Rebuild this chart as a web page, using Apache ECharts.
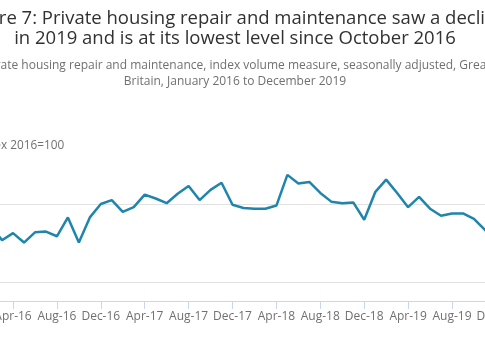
<!DOCTYPE html>
<html><head><meta charset="utf-8">
<script src="https://cdn.jsdelivr.net/npm/echarts@6/dist/echarts.min.js"></script>
<style>
html,body{margin:0;padding:0;width:485px;height:360px;overflow:hidden;background:#fff}
#c{position:absolute;left:-60px;top:0;width:590px;height:360px}
</style></head>
<body><div id="c"></div>
<script>
const titleLines = ['Figure 7: Private housing repair and maintenance saw a decline', 'in 2019 and is at its lowest level since October 2016'];
const subtitleLines = ['Private housing repair and maintenance, index volume measure, seasonally adjusted, Great', 'Britain, January 2016 to December 2019'];
const yAxisTitle = 'Index 2016=100';

const months = [
  'Jan-16','Feb-16','Mar-16','Apr-16','May-16','Jun-16','Jul-16','Aug-16','Sep-16','Oct-16','Nov-16','Dec-16',
  'Jan-17','Feb-17','Mar-17','Apr-17','May-17','Jun-17','Jul-17','Aug-17','Sep-17','Oct-17','Nov-17','Dec-17',
  'Jan-18','Feb-18','Mar-18','Apr-18','May-18','Jun-18','Jul-18','Aug-18','Sep-18','Oct-18','Nov-18','Dec-18',
  'Jan-19','Feb-19','Mar-19','Apr-19','May-19','Jun-19','Jul-19','Aug-19','Sep-19','Oct-19','Nov-19','Dec-19'
];
const privateHousingRM = [
  101.7, 102.2, 100.4, 101.3, 100.1, 101.4, 101.5, 100.9, 103.3, 100.1, 103.3, 105.0,
  105.5, 104.0, 104.6, 106.2, 105.7, 105.1, 106.3, 107.3, 105.5, 106.8, 107.7, 104.9,
  104.5, 104.4, 104.4, 104.8, 108.7, 107.6, 107.8, 106.4, 105.3, 105.1, 105.2, 103.0,
  106.5, 108.1, 106.4, 104.6, 105.9, 104.4, 103.5, 103.8, 103.8, 103.1, 101.7, 100.6
];
const xTickLabels = ['Apr-16','Aug-16','Dec-16','Apr-17','Aug-17','Dec-17','Apr-18','Aug-18','Dec-18','Apr-19','Aug-19','Dec-19'];
const yTicks = [95, 105, 115];

const FONT = '"Open Sans", sans-serif';
const chart = echarts.init(document.getElementById('c'), null, {renderer: 'canvas'});
const showTick = (idx, val) => xTickLabels.indexOf(months[idx]) >= 0;

chart.setOption({
  animation: false,
  backgroundColor: '#ffffff',
  title: {
    text: titleLines.join('\n'),
    subtext: subtitleLines.join('\n'),
    left: 'center',
    top: 9,
    padding: 0,
    itemGap: 9,
    textStyle: {fontFamily: FONT, fontSize: 18.5, fontWeight: 'normal', color: '#323132', lineHeight: 20},
    subtextStyle: {fontFamily: FONT, fontSize: 12, color: '#707071', lineHeight: 16}
  },
  grid: {left: 40.1, right: 34.1, top: 125.3, bottom: 77.3, containLabel: false},
  xAxis: {
    type: 'category',
    data: months,
    boundaryGap: false,
    offset: 18.3,
    axisLine: {lineStyle: {color: '#ccd6eb', width: 1}},
    axisTick: {show: true, length: 8, interval: showTick, lineStyle: {color: '#ccd6eb'}},
    axisLabel: {interval: showTick, margin: 10, fontFamily: FONT, fontSize: 12, color: '#707071'},
    splitLine: {show: false}
  },
  yAxis: {
    type: 'value',
    min: yTicks[0],
    max: yTicks[yTicks.length - 1],
    interval: yTicks[1] - yTicks[0],
    name: yAxisTitle,
    nameLocation: 'end',
    nameGap: -20,
    nameTextStyle: {fontFamily: FONT, fontSize: 11.8, color: '#707071', align: 'left', verticalAlign: 'middle', padding: [0, 0, 0, -3.5]},
    axisLine: {show: false},
    axisTick: {show: false},
    axisLabel: {fontFamily: FONT, fontSize: 12, color: '#707071'},
    splitLine: {show: true, lineStyle: {color: ['#e2e2e2', '#e2e2e2', 'rgba(0,0,0,0)'], width: 1}}
  },
  series: [{
    type: 'line',
    name: 'Private housing repair and maintenance',
    data: privateHousingRM,
    symbol: 'none',
    lineStyle: {color: '#1f85ad', width: 2.5},
    itemStyle: {color: '#1f85ad'}
  }]
});
</script>
</body></html>
